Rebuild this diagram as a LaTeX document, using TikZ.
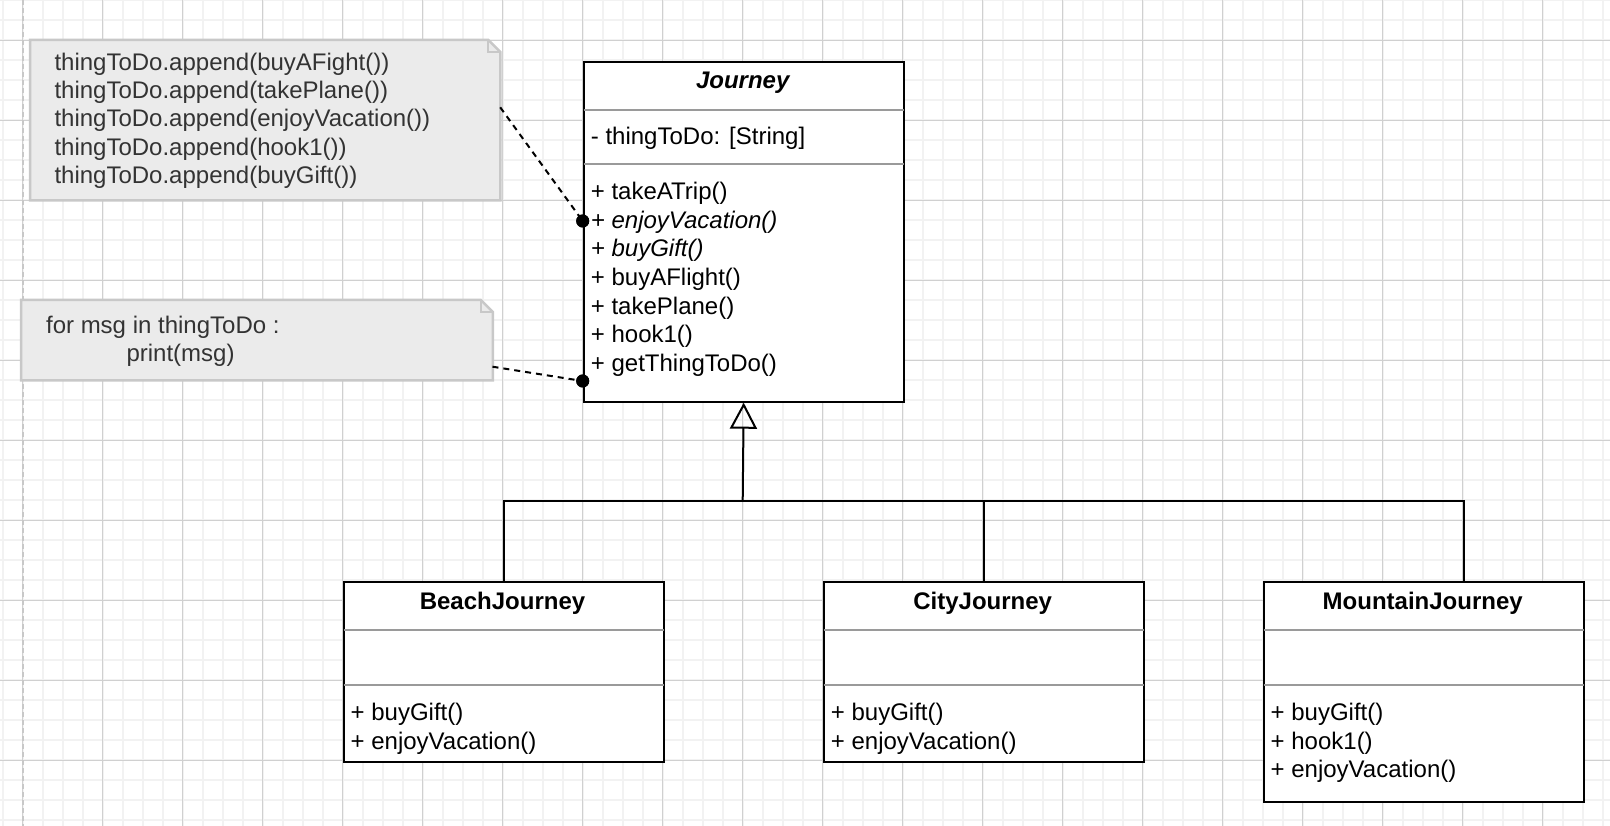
\documentclass[tikz,border=0pt]{standalone}
\usepackage{fontspec}
\setmainfont{Liberation Sans}
\usetikzlibrary{arrows.meta}
\definecolor{minorc}{HTML}{F2F2F2}
\definecolor{majorc}{HTML}{D0D0D0}
\definecolor{notefill}{HTML}{EBEBEB}
\definecolor{notedraw}{HTML}{C8C8C8}
\definecolor{notetext}{HTML}{333333}
\definecolor{divc}{HTML}{9A9A9A}
\begin{document}
\begin{tikzpicture}[x=1pt,y=-1pt,
  txtline/.style={inner sep=0pt, anchor=base west, font=\fontsize{24}{28.8}\selectfont},
  titleline/.style={inner sep=0pt, anchor=base, font=\fontsize{24}{28.8}\selectfont\bfseries},
  umlbox/.style={draw=black, line width=2pt, fill=white, inner sep=0pt, anchor=north west},
  divline/.style={draw=divc, line width=2pt, shorten <=1pt, shorten >=1pt},
  notetxt/.style={txtline, text=notetext},
  noteframe/.style={inner sep=0pt, anchor=north west},
  noteline/.style={draw=notedraw, fill=notefill, line width=2.5pt},
  linkline/.style={draw=black, line width=2pt},
  genline/.style={linkline, -{Triangle[open, length=26pt, width=27pt, line width=2pt]}},
  dashline/.style={draw=black, line width=2pt, dash pattern=on 6pt off 5pt},
  dotnode/.style={circle, fill=black, inner sep=0pt, minimum size=13pt},
]
\useasboundingbox (0,0) rectangle (1610,826);
\fill[white] (0,0) rectangle (1610,826);
% grid
\foreach \k in {0,...,80} \draw[minorc, line width=2pt] ({2.7+20*\k},0) -- ({2.7+20*\k},826);
\foreach \k in {0,...,41} \draw[minorc, line width=2pt] (0,{0.3+20*\k}) -- (1610,{0.3+20*\k});
\foreach \k in {0,...,19} \draw[majorc, line width=1pt] ({22.7+80*\k},0) -- ({22.7+80*\k},826);
\foreach \k in {0,...,9} \draw[majorc, line width=1pt] (0,{40.3+80*\k}) -- (1610,{40.3+80*\k});
\draw[notedraw, line width=2pt, dash pattern=on 5pt off 3pt] (22.7,0) -- (22.7,826);

% Journey
\node[umlbox, minimum width=320pt, minimum height=340pt] (journey) at (582.7,60.7) {};
\draw[divline] (journey.west |- 0,110.5) -- (journey.east |- 0,110.5);
\draw[divline] (journey.west |- 0,164.5) -- (journey.east |- 0,164.5);
\node[titleline, font=\fontsize{24}{28.8}\selectfont\bfseries\itshape] (jtitle) at (742.7,89) {Journey};
\node[txtline] (jattr) at (590.7,144.3) {- thingToDo: [String]};
\node[txtline] (jm1) at (590.7,199.7) {+ takeATrip()};
\node[txtline] (jm2) at (590.7,228.3) {\itshape + enjoyVacation()};
\node[txtline] (jm3) at (590.7,256.9) {\itshape + buyGift()};
\node[txtline] (jm4) at (590.7,285.5) {+ buyAFlight()};
\node[txtline] (jm5) at (590.7,314.1) {+ takePlane()};
\node[txtline] (jm6) at (590.7,342.7) {+ hook1()};
\node[txtline] (jm7) at (590.7,371.3) {+ getThingToDo()};

% children
\node[umlbox, minimum width=320pt, minimum height=180pt] (beach) at (342.5,580.7) {};
\node[umlbox, minimum width=320pt, minimum height=180pt] (city) at (822.7,580.7) {};
\node[umlbox, minimum width=320pt, minimum height=220pt] (mountain) at (1262.7,580.7) {};
\foreach \b in {beach,city,mountain}{
  \draw[divline] (\b.west |- 0,630) -- (\b.east |- 0,630);
  \draw[divline] (\b.west |- 0,685) -- (\b.east |- 0,685);
}
\node[titleline] (btitle) at (502.5,609) {BeachJourney};
\node[txtline] (bm1) at (350.5,720.3) {+ buyGift()};
\node[txtline] (bm2) at (350.5,749) {+ enjoyVacation()};
\node[titleline] (ctitle) at (982.7,609) {CityJourney};
\node[txtline] (cm1) at (830.7,720.3) {+ buyGift()};
\node[txtline] (cm2) at (830.7,749) {+ enjoyVacation()};
\node[titleline] (mtitle) at (1422.7,609) {MountainJourney};
\node[txtline] (mm1) at (1270.5,720.3) {+ buyGift()};
\node[txtline] (mm2) at (1270.5,749) {+ hook1()};
\node[txtline] (mm3) at (1270.5,777.6) {+ enjoyVacation()};

% generalization
\coordinate (bar) at (742.7,500.7);
\draw[linkline] (beach.north) |- (bar);
\draw[linkline] (city.north) |- (bar);
\draw[linkline] ([xshift=40pt]mountain.north) |- (bar);
\draw[genline] (bar) -- (journey.south);

% notes
\node[noteframe, minimum width=470pt, minimum height=160pt] (note1) at (30,40) {};
\draw[noteline] (note1.south west) -- (note1.north west) -- ([xshift=-12pt]note1.north east)
  -- ([yshift=-12pt]note1.north east) -- (note1.south east) -- cycle;
\draw[draw=notedraw, line width=2pt] ([xshift=-12pt]note1.north east) -- ([xshift=-12pt,yshift=-12pt]note1.north east) -- ([yshift=-12pt]note1.north east);
\node[notetxt] (n1a) at (54.3,70.3) {thingToDo.append(buyAFight())};
\node[notetxt] (n1b) at (54.3,98.6) {thingToDo.append(takePlane())};
\node[notetxt] (n1c) at (54.3,127) {thingToDo.append(enjoyVacation())};
\node[notetxt] (n1d) at (54.3,155.3) {thingToDo.append(hook1())};
\node[notetxt] (n1e) at (54.3,183.7) {thingToDo.append(buyGift())};

\node[noteframe, minimum width=471.5pt, minimum height=80pt] (note2) at (21,300) {};
\draw[noteline] (note2.south west) -- (note2.north west) -- ([xshift=-12pt]note2.north east)
  -- ([yshift=-12pt]note2.north east) -- (note2.south east) -- cycle;
\draw[draw=notedraw, line width=2pt] ([xshift=-12pt]note2.north east) -- ([xshift=-12pt,yshift=-12pt]note2.north east) -- ([yshift=-12pt]note2.north east);
\node[notetxt] (n2a) at (45.9,333.7) {for msg in thingToDo :};
\node[notetxt] (n2b) at (126.3,362) {print(msg)};

% note links
\coordinate (n1p) at (500.2,107.3);
\coordinate (n2p) at (492.5,366.7);
\node[dotnode] (dot1) at (582.7,221) {};
\node[dotnode] (dot2) at (582.7,381) {};
\draw[dashline] (n1p) -- (dot1.center);
\draw[dashline] (n2p) -- (dot2.center);
\node[dotnode] at (dot1) {};
\node[dotnode] at (dot2) {};
\end{tikzpicture}
\end{document}
